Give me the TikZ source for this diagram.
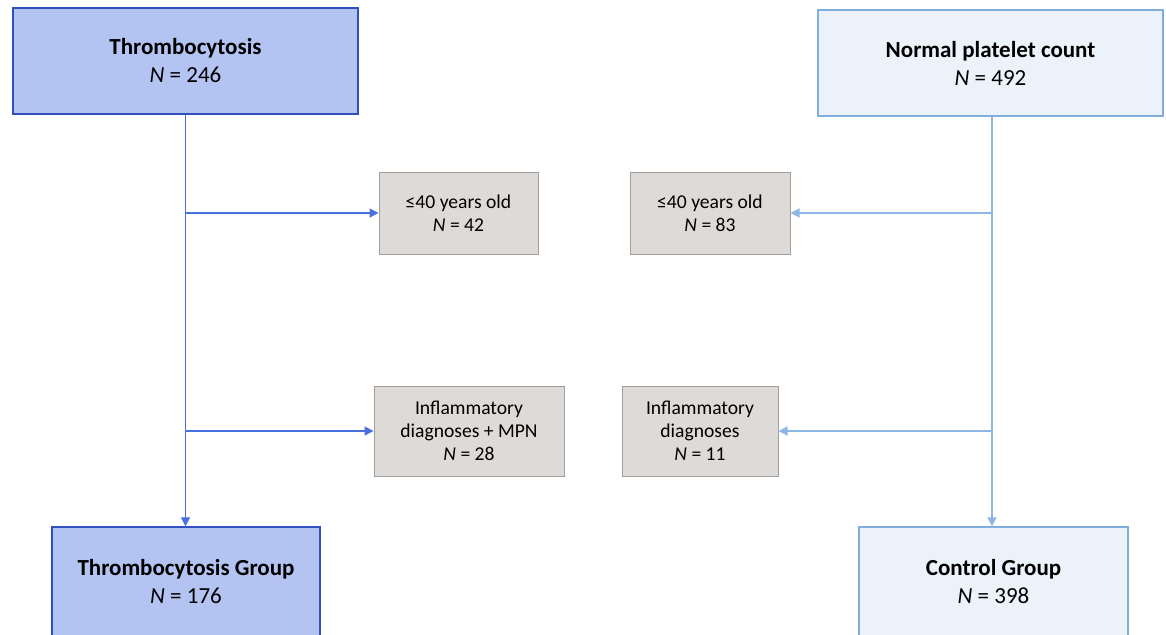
\documentclass[tikz,border=0pt]{standalone}
\usepackage{fontspec}
\setmainfont{Carlito}
\usetikzlibrary{arrows.meta}
\definecolor{thrfill}{HTML}{B4C4F2}
\definecolor{thrdraw}{HTML}{3050BE}
\definecolor{ctlfill}{HTML}{EBF2FA}
\definecolor{ctldraw}{HTML}{82AEDC}
\definecolor{grayfill}{HTML}{DEDAD8}
\definecolor{graydraw}{HTML}{A29E9B}
\definecolor{lline}{HTML}{4A70E0}
\definecolor{rline}{HTML}{8DB8E6}
\tikzset{
  bigbox/.style={draw, line width=1.4pt, inner sep=0pt, align=center,
    font=\fontsize{23}{28}\selectfont},
  thr/.style={bigbox, fill=thrfill, draw=thrdraw},
  ctl/.style={bigbox, fill=ctlfill, draw=ctldraw},
  excl/.style={draw=graydraw, fill=grayfill, line width=1pt, inner sep=0pt,
    align=center, font=\fontsize{19.6}{23}\selectfont},
  larrow/.style={draw=lline, line width=1.3pt, -{Triangle[length=9pt,width=9pt]}},
  rarrow/.style={draw=rline, line width=1.3pt, -{Triangle[length=9pt,width=9pt]}},
}
\begin{document}
\begin{tikzpicture}[x=1pt,y=-1pt]
\useasboundingbox (0,0) rectangle (1166,634);
\fill[white] (0,0) rectangle (1166,634);
\clip (0,0) rectangle (1166,634);
% top boxes
\node[thr, minimum width=345pt, minimum height=106pt] (t1) at (185.5,61)
  {\textbf{Thrombocytosis}\\\textit{N} = 246};
\node[ctl, minimum width=345pt, minimum height=106pt] (t2) at (990.5,63)
  {\textbf{Normal platelet count}\\\textit{N} = 492};
% exclusion boxes
\node[excl, minimum width=159pt, minimum height=82pt] (g1) at (458.5,213)
  {≤40 years old\\\textit{N} = 42};
\node[excl, minimum width=160pt, minimum height=82pt] (g2) at (710,213)
  {≤40 years old\\\textit{N} = 83};
\node[excl, minimum width=190pt, minimum height=90pt] (g3) at (469,431)
  {Inflammatory\\diagnoses + MPN\\\textit{N} = 28};
\node[excl, minimum width=156pt, minimum height=90pt] (g4) at (700,431)
  {Inflammatory\\diagnoses\\\textit{N} = 11};
% bottom boxes
\node[thr, minimum width=268pt, minimum height=110pt] (b1) at (186,582)
  {\textbf{Thrombocytosis Group}\\\textit{N} = 176};
\node[ctl, minimum width=269pt, minimum height=110pt] (b2) at (993.5,582)
  {\textbf{Control Group}\\\textit{N} = 398};
% connectors
\draw[larrow] (t1.south) -- (t1.south |- b1.north);
\draw[larrow] (t1.south |- g1.west) -- (g1.west);
\draw[larrow] (t1.south |- g3.west) -- (g3.west);
\draw[rarrow] ([xshift=1.5pt]t2.south) -- ([xshift=1.5pt]t2.south |- b2.north);
\draw[rarrow] ([xshift=1.5pt]t2.south |- g2.east) -- (g2.east);
\draw[rarrow] ([xshift=1.5pt]t2.south |- g4.east) -- (g4.east);
\end{tikzpicture}
\end{document}
